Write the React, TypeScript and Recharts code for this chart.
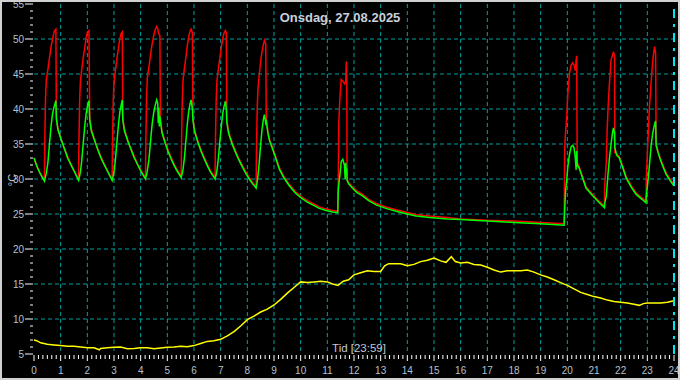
import { LineChart, Line, XAxis, YAxis, CartesianGrid, ReferenceLine } from "recharts";

// kjele / tur (rød) og retur (grønn), en linje per syklus
const boilerTime = [
  0.0, 0.1, 0.2, 0.3, 0.39,
  0.4, 0.43, 0.46, 0.52, 0.58, 0.64, 0.7, 0.76, 0.82, 0.84,
  0.9, 1.03, 1.15, 1.26, 1.4, 1.52, 1.67,
  1.68, 1.71, 1.74, 1.79, 1.85, 1.91, 1.96, 2.01, 2.06, 2.09,
  2.15, 2.28, 2.4, 2.51, 2.65, 2.77, 2.93,
  2.94, 2.97, 3.0, 3.05, 3.11, 3.17, 3.22, 3.27, 3.31, 3.33,
  3.39, 3.52, 3.64, 3.75, 3.89, 4.02, 4.18,
  4.19, 4.22, 4.25, 4.31, 4.37, 4.43, 4.49, 4.55, 4.6, 4.64, 4.66, 4.68, 4.7, 4.72, 4.74,
  4.8, 4.92, 5.03, 5.14, 5.27, 5.39, 5.52,
  5.53, 5.56, 5.59, 5.64, 5.7, 5.75, 5.8, 5.85, 5.89, 5.94, 5.96,
  6.02, 6.14, 6.26, 6.37, 6.51, 6.63, 6.79,
  6.8, 6.83, 6.86, 6.91, 6.97, 7.03, 7.08, 7.13, 7.18, 7.21, 7.23,
  7.3, 7.45, 7.6, 7.75, 7.9, 8.05, 8.2, 8.33,
  8.34, 8.37, 8.4, 8.45, 8.5, 8.55, 8.6, 8.64, 8.69, 8.71,
  8.77, 8.83, 9.01, 9.2, 9.38, 9.58, 9.8, 10.02, 10.25, 10.45, 10.7, 10.96, 11.2, 11.39,
  11.41, 11.43, 11.47, 11.52, 11.58, 11.64, 11.67, 11.69, 11.71, 11.73, 11.74,
  11.8, 11.94, 12.1, 12.32, 12.55, 12.83, 13.2, 13.58, 14.0, 14.33, 14.83, 15.5, 16.0, 17.0, 18.0, 19.0, 19.88,
  19.9, 19.93, 19.98, 20.02, 20.08, 20.14, 20.2, 20.25, 20.3, 20.33, 20.35, 20.37,
  20.44, 20.52, 20.7, 20.95, 21.2, 21.39,
  21.4, 21.46, 21.49, 21.53, 21.58, 21.64, 21.7, 21.73, 21.77, 21.78,
  21.85, 21.95, 22.08, 22.2, 22.4, 22.58, 22.8, 22.95,
  22.96, 23.03, 23.08, 23.14, 23.2, 23.27, 23.31, 23.33,
  23.4, 23.5, 23.7, 23.85, 24.0,
];
const redTemp = [
  33.0, 32.0, 31.1, 30.4, 29.8,
  34.2, 41.3, 44.2, 45.6, 47.3, 48.9, 50.1, 51.1, 51.4, 38.9,
  37.2, 35.6, 34.3, 33.2, 32.0, 31.1, 29.9,
  34.0, 41.0, 44.0, 45.6, 47.4, 49.0, 50.3, 51.0, 51.2, 38.8,
  37.1, 35.5, 34.2, 33.2, 32.0, 31.1, 29.9,
  34.0, 41.0, 43.8, 45.4, 47.2, 48.8, 50.0, 50.8, 51.0, 38.8,
  37.1, 35.5, 34.3, 33.3, 32.1, 31.2, 30.1,
  34.5, 41.5, 44.5, 46.0, 47.7, 49.3, 50.5, 51.4, 51.8, 51.5, 51.0, 50.8, 50.6, 50.5, 38.6,
  36.8, 35.3, 34.1, 33.1, 32.0, 31.2, 30.4,
  34.5, 41.3, 44.2, 45.8, 47.5, 49.1, 50.3, 51.1, 51.4, 50.9, 38.8,
  37.0, 35.5, 34.2, 33.2, 32.0, 31.1, 30.2,
  34.3, 41.0, 44.0, 45.6, 47.3, 48.9, 50.1, 50.9, 51.2, 50.8, 38.5,
  36.7, 35.0, 33.6, 32.4, 31.3, 30.3, 29.5, 28.9,
  33.5, 40.0, 43.0, 45.0, 46.8, 48.2, 49.2, 49.8, 49.3, 38.6,
  36.8, 35.7, 33.8, 31.6, 30.3, 29.2, 28.2, 27.5, 26.9, 26.5, 26.0, 25.7, 25.5, 25.4,
  30.0, 38.0, 41.5, 44.2, 44.0, 43.6, 43.8, 44.0, 46.8, 44.0, 30.0,
  29.5, 28.9, 28.3, 27.8, 27.1, 26.5, 26.0, 25.6, 25.2, 24.9, 24.7, 24.5, 24.3, 24.1, 24.0, 23.8, 23.6,
  34.2, 36.5, 38.9, 42.3, 45.1, 46.2, 46.6, 46.3, 45.5, 47.0, 47.6, 32.3,
  31.8, 30.9, 28.9, 27.8, 26.8, 26.1,
  29.0, 32.3, 36.6, 40.4, 43.7, 47.0, 47.8, 48.2, 47.5, 33.8,
  33.6, 33.2, 31.8, 30.4, 29.0, 28.0, 27.3, 26.8,
  29.9, 36.1, 40.4, 43.7, 46.8, 48.9, 48.0, 35.0,
  34.0, 32.8, 30.9, 30.0, 29.2,
];
const greenTemp = [
  33.0, 31.9, 31.0, 30.3, 29.7,
  29.9, 30.3, 30.8, 32.3, 35.0, 37.6, 39.4, 40.4, 41.2, 38.5,
  37.0, 35.5, 34.2, 33.0, 31.9, 31.0, 29.8,
  30.0, 30.4, 31.0, 32.6, 35.3, 37.8, 39.5, 40.5, 41.2, 38.4,
  36.9, 35.4, 34.1, 33.0, 31.9, 31.0, 29.8,
  30.0, 30.4, 31.0, 32.6, 35.3, 37.9, 39.6, 40.6, 41.3, 38.4,
  36.9, 35.4, 34.2, 33.1, 32.0, 31.0, 30.0,
  30.2, 30.6, 31.2, 32.8, 35.4, 37.8, 39.5, 40.6, 41.3, 40.8, 38.0, 40.2, 37.5, 39.0, 38.3,
  36.6, 35.1, 33.9, 32.9, 31.8, 31.0, 30.2,
  30.4, 30.8, 31.4, 33.0, 35.6, 37.9, 39.6, 40.7, 41.3, 40.0, 38.4,
  36.8, 35.3, 34.0, 33.0, 31.8, 30.9, 30.0,
  30.2, 30.6, 31.2, 32.8, 35.4, 37.7, 39.4, 40.4, 41.1, 40.0, 38.1,
  36.5, 34.8, 33.4, 32.2, 31.1, 30.1, 29.3, 28.7,
  29.0, 29.6, 30.5, 32.5, 35.0, 37.0, 38.5, 39.2, 38.0, 38.2,
  36.6, 35.5, 33.6, 31.4, 30.1, 29.0, 28.0, 27.3, 26.7, 26.3, 25.8, 25.5, 25.3, 25.2,
  28.5, 29.2, 30.5, 32.5, 32.8, 32.0, 30.0, 32.3, 31.0, 31.5, 29.8,
  29.3, 28.7, 28.1, 27.6, 26.9, 26.3, 25.8, 25.4, 25.0, 24.7, 24.5, 24.3, 24.2, 24.0, 23.8, 23.6, 23.4,
  25.5, 28.0, 30.0, 31.8, 33.5, 34.6, 34.8, 34.5, 33.0, 31.3, 34.0, 32.0,
  31.6, 30.7, 28.7, 27.6, 26.6, 25.9,
  26.5, 27.5, 29.0, 30.9, 33.0, 35.0, 36.8, 37.3, 36.5, 34.5,
  33.4, 33.0, 31.6, 30.2, 28.8, 27.8, 27.1, 26.6,
  27.5, 29.9, 32.0, 34.7, 36.5, 37.8, 38.3, 34.8,
  33.8, 32.6, 30.7, 29.8, 29.0,
];

// ute (gul)
const outdoorTime = [
  0, 0.1, 0.25, 0.5, 0.75, 1, 1.25, 1.5, 1.75, 2, 2.25, 2.45, 2.5, 2.75, 3, 3.25, 3.5, 3.75,
  4, 4.25, 4.5, 4.75, 5, 5.25, 5.5, 5.75, 6, 6.25, 6.5, 6.75, 7, 7.25, 7.5, 7.75,
  8, 8.25, 8.5, 8.75, 9, 9.25, 9.5, 9.75, 10, 10.25, 10.5, 10.75, 11, 11.2, 11.4, 11.6, 11.8,
  12, 12.25, 12.5, 12.75, 13, 13.15, 13.3, 13.5, 13.75, 14, 14.25, 14.5, 14.75, 15, 15.25, 15.45,
  15.65, 15.8, 16, 16.25, 16.5, 16.75, 17, 17.25, 17.5, 17.75, 18, 18.25, 18.5, 18.75, 19, 19.25,
  19.5, 19.75, 20, 20.25, 20.5, 20.75, 21, 21.25, 21.5, 21.75, 22, 22.25, 22.5, 22.7, 22.85,
  23, 23.25, 23.5, 23.75, 24,
];
const outdoorTemp = [
  7.0, 6.9, 6.6, 6.4, 6.3, 6.2, 6.1, 6.1, 6.0, 5.9, 5.9, 5.6, 5.8, 5.9, 5.95, 6.0, 5.75, 5.8,
  5.9, 5.9, 5.75, 5.85, 5.95, 6.0, 6.1, 6.05, 6.2, 6.5, 6.8, 6.9, 7.1, 7.6, 8.2, 9.0,
  9.9, 10.4, 11.0, 11.4, 12.0, 12.8, 13.7, 14.5, 15.3, 15.2, 15.3, 15.4, 15.3, 15.0, 14.8, 15.4, 15.6,
  16.3, 16.6, 16.9, 16.8, 16.8, 17.6, 17.9, 17.9, 17.9, 17.6, 17.8, 18.2, 18.4, 18.7, 18.3, 18.1,
  18.9, 18.2, 18.0, 18.1, 17.8, 17.7, 17.4, 17.0, 16.7, 16.9, 16.9, 16.9, 17.0, 16.7, 16.3, 16.0,
  15.6, 15.2, 14.8, 14.3, 13.8, 13.5, 13.2, 13.0, 12.7, 12.5, 12.4, 12.3, 12.1, 11.95, 12.2,
  12.3, 12.3, 12.3, 12.4, 12.6,
];

const X_DOMAIN = [0, 24];
const Y_DOMAIN = [5, 55];
const gridHours = [1, 2, 3, 4, 5, 6, 7, 8, 9, 10, 11, 12, 13, 14, 15, 16, 17, 18, 19, 20, 21, 22, 23];
const gridTemps = [10, 15, 20, 25, 30, 35, 40, 45, 50];

const title = "Onsdag, 27.08.2025";
const xTitle = "Tid [23:59]";
const yTitle = "°C";

const rows: any[] = [
  ...boilerTime.map((t, i) => ({ t, red: redTemp[i], green: greenTemp[i] })),
  ...outdoorTime.map((t, i) => ({ t, yellow: outdoorTemp[i] })),
].sort((a, b) => a.t - b.t);

// layout
const W = 680;
const H = 380;
const MARGIN = { top: 4, right: 6, bottom: 0, left: 0 };
const Y_AXIS_W = 34;
const X_AXIS_H = 26;
const PLOT = {
  left: MARGIN.left + Y_AXIS_W,
  top: MARGIN.top,
  width: W - MARGIN.left - MARGIN.right - Y_AXIS_W,
  height: H - MARGIN.top - MARGIN.bottom - X_AXIS_H,
};

// rutenett bare på hele timer og hver 5. grad
const vPoints = gridHours.map(
  (v) => PLOT.left + ((v - X_DOMAIN[0]) / (X_DOMAIN[1] - X_DOMAIN[0])) * PLOT.width
);
const hPoints = gridTemps.map(
  (v) => PLOT.top + ((Y_DOMAIN[1] - v) / (Y_DOMAIN[1] - Y_DOMAIN[0])) * PLOT.height
);

// 10-minutters streker på x, 1 grad på y
const xTicks: number[] = [];
for (let i = 0; i <= 144; i++) xTicks.push(i / 6);
const yTicks: number[] = [];
for (let v = 5; v <= 55; v++) yTicks.push(v);

const FONT = "'Liberation Sans', Arial, sans-serif";
const LABEL = "#b4c0d0";

const isWhole = (v: number) => Math.abs(v - Math.round(v)) < 1e-6;

function XTick({ x, y, payload }: any) {
  const major = isWhole(payload.value);
  return (
    <g>
      <line x1={x} x2={x} y1={y + 1} y2={y + (major ? 7 : 5)} stroke="#ffffff" />
      {major && (
        <text x={x} y={y + 19.5} textAnchor="middle" fill={LABEL} fontSize={10} fontFamily={FONT}>
          {Math.round(payload.value)}
        </text>
      )}
    </g>
  );
}

function YTick({ x, y, payload }: any) {
  const major = payload.value % 5 === 0;
  return (
    <g>
      <line x1={x - (major ? 9 : 4)} x2={x - 1} y1={y} y2={y} stroke="#ffffff" />
      {major && (
        <text x={x - 10} y={y + 3.5} textAnchor="end" fill={LABEL} fontSize={10} fontFamily={FONT}>
          {payload.value}
        </text>
      )}
    </g>
  );
}

export default function App() {
  return (
    <div style={{ position: "fixed", left: 0, top: 0, width: W, height: H, background: "#000" }}>
      <LineChart width={W} height={H} data={rows} margin={MARGIN}>
        <CartesianGrid
          stroke="#00a0a0"
          strokeDasharray="4 3"
          horizontalPoints={hPoints}
          verticalPoints={vPoints}
        />
        <XAxis
          dataKey="t"
          type="number"
          domain={X_DOMAIN}
          ticks={xTicks}
          interval={0}
          height={X_AXIS_H}
          axisLine={false}
          tickLine={false}
          tickSize={0}
          tickMargin={0}
          tick={<XTick />}
        />
        <YAxis
          type="number"
          domain={Y_DOMAIN}
          ticks={yTicks}
          interval={0}
          width={Y_AXIS_W}
          axisLine={false}
          tickLine={false}
          tickSize={0}
          tickMargin={0}
          allowDataOverflow
          tick={<YTick />}
        />
        <Line dataKey="yellow" stroke="#ffff00" strokeWidth={1.5} dot={false} connectNulls isAnimationActive={false} />
        <Line dataKey="red" stroke="#ff0000" strokeWidth={1.5} dot={false} connectNulls isAnimationActive={false} />
        <Line dataKey="green" stroke="#00ff00" strokeWidth={1.5} dot={false} connectNulls isAnimationActive={false} />
        <ReferenceLine x={24} stroke="#00e5f0" strokeWidth={2} strokeDasharray="9 6 3 6" />
      </LineChart>
      <svg width={W} height={H} style={{ position: "absolute", left: 0, top: 0, pointerEvents: "none" }}>
        <text x={340} y={21.5} textAnchor="middle" fill="#c8d0dc" fontSize={13} fontWeight="bold" fontFamily={FONT}>
          {title}
        </text>
        <text x={359} y={352} textAnchor="middle" fill="#c0c8d4" fontSize={11.5} fontFamily={FONT}>
          {xTitle}
        </text>
        <text x={16} y={180} transform="rotate(-90 16 180)" textAnchor="middle" fill="#c0c8d4" fontSize={11} fontFamily={FONT}>
          {yTitle}
        </text>
        <rect x={1} y={1} width={W - 2} height={H - 2} fill="none" stroke="#d0d0d0" strokeWidth={2} />
      </svg>
    </div>
  );
}
